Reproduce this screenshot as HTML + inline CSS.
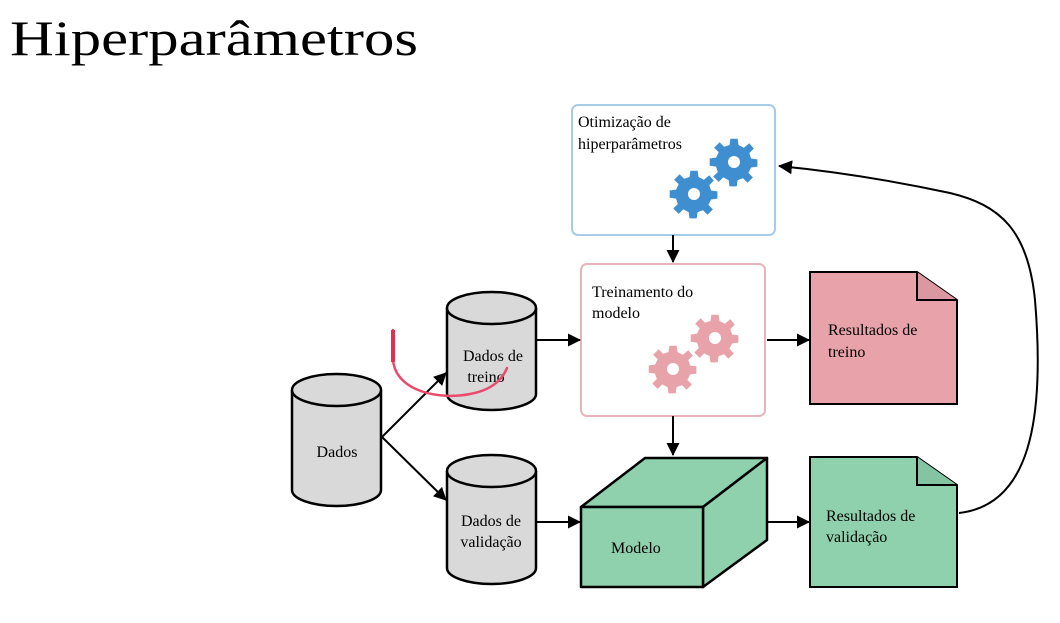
<!DOCTYPE html>
<html><head><meta charset="utf-8"><style>
html,body{margin:0;padding:0;background:#fff;width:1060px;height:623px;overflow:hidden}
svg{display:block}
</style></head><body>
<svg width="1060" height="623" viewBox="0 0 1060 623" xmlns="http://www.w3.org/2000/svg" font-family="Liberation Serif, serif">
<defs>
<marker id="a" markerWidth="13" markerHeight="13" refX="12" refY="6.5" orient="auto" markerUnits="userSpaceOnUse">
<path d="M0,0 L13,6.5 L0,13 z" fill="#000"/></marker>
<marker id="b" markerWidth="14" markerHeight="14" refX="13" refY="7" orient="auto" markerUnits="userSpaceOnUse">
<path d="M0,0 L14,7 L0,14 z" fill="#000"/></marker>
<g id="gear">
<path d="M-4,-22 L4,-22 L5,-15 L11,-12 L17,-17 L22,-11 L17,-6 L19,0 L26,1 L26,9 L19,10 L16,16 L21,21 L15,27 L10,22 L4,24 L3,31 L-5,31 L-6,24 L-12,21 L-17,26 L-23,20 L-18,15 L-20,9 L-27,8 L-27,0 L-20,-1 L-17,-7 L-22,-12 L-16,-18 L-11,-13 L-5,-15 z" transform="translate(0,-4.5) scale(0.9)" stroke-linejoin="round"/>
</g>
</defs>
<text x="10" y="55" font-size="50" fill="#000" textLength="408" lengthAdjust="spacingAndGlyphs">Hiperparâmetros</text>

<rect x="572" y="105" width="203" height="130" rx="6" fill="#fff" stroke="#a8cbe6" stroke-width="2"/>
<text x="578" y="127" font-size="16">Otimização de</text>
<text x="578" y="149" font-size="16">hiperparâmetros</text>
<g fill="#3f8fd0">
<use href="#gear" x="734" y="163"/>
<use href="#gear" x="694" y="195"/>
</g>
<circle cx="734" cy="162" r="6" fill="#fff"/><circle cx="694" cy="194" r="6" fill="#fff"/>
<line x1="673" y1="235" x2="673" y2="262" stroke="#000" stroke-width="2" marker-end="url(#a)"/>

<rect x="581" y="264" width="184" height="152" rx="6" fill="#fff" stroke="#e8b4bc" stroke-width="2"/>
<text x="592" y="297" font-size="16">Treinamento do</text>
<text x="592" y="318" font-size="16">modelo</text>
<g fill="#e8a2aa">
<use href="#gear" x="715" y="339"/>
<use href="#gear" x="673" y="370"/>
</g>
<circle cx="715" cy="338" r="6" fill="#fff"/><circle cx="673" cy="369" r="6" fill="#fff"/>
<line x1="673" y1="416" x2="673" y2="455" stroke="#000" stroke-width="2" marker-end="url(#a)"/>

<g stroke="#000" stroke-width="2.5" fill="#d9d9d9">
<path d="M292,390 L292,490 A44.5,16 0 0 0 381,490 L381,390"/>
<ellipse cx="336.5" cy="390" rx="44.5" ry="16"/>
<path d="M447,308 L447,394 A44.5,16 0 0 0 536,394 L536,308"/>
<ellipse cx="491.5" cy="308" rx="44.5" ry="16"/>
<path d="M447,471 L447,568 A44.5,16 0 0 0 536,568 L536,471"/>
<ellipse cx="491.5" cy="471" rx="44.5" ry="16"/>
</g>
<g font-size="16" text-anchor="middle">
<text x="337" y="457">Dados</text>
<text x="493" y="361">Dados de</text>
<text x="486" y="382">treino</text>
<text x="491" y="526">Dados de</text>
<text x="491" y="547">validação</text>
</g>
<g stroke="#000" stroke-width="2" fill="none">
<line x1="382" y1="437" x2="446" y2="373" marker-end="url(#a)"/>
<line x1="382" y1="437" x2="446" y2="500" marker-end="url(#a)"/>
<line x1="537" y1="340" x2="580" y2="340" marker-end="url(#a)"/>
<line x1="537" y1="522" x2="580" y2="522" marker-end="url(#a)"/>
<line x1="767" y1="340" x2="809" y2="340" marker-end="url(#a)"/>
<line x1="767" y1="522" x2="809" y2="522" marker-end="url(#a)"/>
</g>

<g stroke="#000" stroke-width="2.5" fill="#8fd0ad" stroke-linejoin="round">
<path d="M581,507 L645,458 L767,458 L703,507 z"/>
<path d="M703,507 L767,458 L767,540 L703,587 z"/>
<rect x="581" y="507" width="122" height="80"/>
</g>
<text x="611" y="553" font-size="16">Modelo</text>

<g stroke="#000" stroke-width="2">
<path d="M810,272 L917,272 L957,300 L957,404 L810,404 z" fill="#e8a2aa"/>
<path d="M917,272 L917,300 L957,300" fill="#dc98a0"/>
<path d="M810,457 L917,457 L957,485 L957,587 L810,587 z" fill="#8fd0ad"/>
<path d="M917,457 L917,485 L957,485" fill="#84c4a2"/>
</g>
<text x="828" y="335" font-size="16">Resultados de</text>
<text x="828" y="357" font-size="16">treino</text>
<text x="826" y="521" font-size="16">Resultados de</text>
<text x="826" y="542" font-size="16">validação</text>

<path d="M959,513 C1030,505 1045,420 1035,300 C1028,230 1000,205 950,193 C880,178 820,170 779,166" stroke="#000" stroke-width="2" fill="none" marker-end="url(#b)"/>

<path d="M393,330 L393,360 C396,392 440,400 470,394 C492,390 502,380 507,368" stroke="#ea4a6c" stroke-width="2.5" fill="none" stroke-linecap="round"/>
<path d="M393,330 L393,362" stroke="#e2304f" stroke-width="4" fill="none"/>
</svg>
</body></html>
